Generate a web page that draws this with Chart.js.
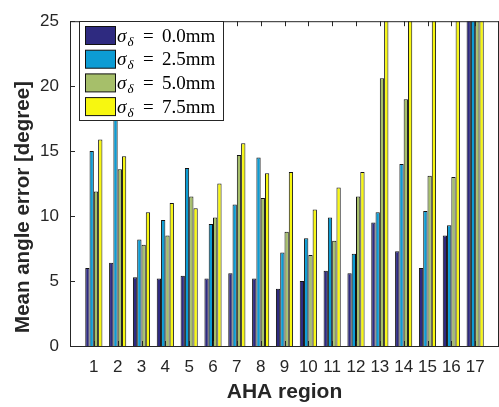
<!DOCTYPE html>
<html>
<head>
<meta charset="utf-8">
<script src="https://cdn.jsdelivr.net/npm/chart.js@4.4.0/dist/chart.umd.min.js"></script>
<style>
  html, body { margin: 0; padding: 0; background: #fff; overflow: hidden; width: 499px; height: 407px; }
  canvas { display: block; }
</style>
</head>
<body>
<canvas id="chart" width="510" height="407"></canvas>
<script>
// AHA regions 1..17, mean angle error per noise level (values above 25 are off the chart)
const regions = [1, 2, 3, 4, 5, 6, 7, 8, 9, 10, 11, 12, 13, 14, 15, 16, 17];
const sigma00 = [6.0, 6.4, 5.3, 5.2, 5.4, 5.2, 5.6, 5.2, 4.4, 5.0, 5.8, 5.6, 9.5, 7.3, 6.0, 8.5, 30];
const sigma25 = [15.0, 17.6, 8.2, 9.7, 13.7, 9.4, 10.9, 14.5, 7.2, 8.3, 9.9, 7.1, 10.3, 14.0, 10.4, 9.3, 30];
const sigma50 = [11.9, 13.6, 7.8, 8.5, 11.5, 9.9, 14.7, 11.4, 8.8, 7.0, 8.1, 11.5, 20.6, 19.0, 13.1, 13.0, 30];
const sigma75 = [15.9, 14.6, 10.3, 11.0, 10.6, 12.5, 15.6, 13.3, 13.4, 10.5, 12.2, 13.4, 30, 30, 30, 30, 30];
const seriesNames = ['0.0mm', '2.5mm', '5.0mm', '7.5mm'];
const seriesColors = ['#2e2a80', '#0c9cd4', '#a6bf6a', '#f7f710'];
const yTicks = [0, 5, 10, 15, 20, 25];
const yTitle = 'Mean angle error [degree]';

const axisColor = '#262626';
const sans = '"Liberation Sans", Arial, sans-serif';

const toPoints = vals => vals.map((v, i) => ({ x: regions[i], y: v }));

// matlab style box with inward ticks
const boxPlugin = {
  id: 'box',
  afterDatasetsDraw(chart) {
    const { ctx, chartArea: a, scales: { x, y } } = chart;
    ctx.save();
    ctx.strokeStyle = axisColor;
    ctx.lineWidth = 1;
    ctx.beginPath();
    ctx.moveTo(a.left, a.top + 0.5);
    ctx.lineTo(a.right, a.top + 0.5);
    ctx.moveTo(a.right - 0.5, a.top);
    ctx.lineTo(a.right - 0.5, a.bottom);
    regions.forEach(r => {
      const px = Math.round(x.getPixelForValue(r)) + 0.5;
      ctx.moveTo(px, a.top);
      ctx.lineTo(px, a.top + 5);
      ctx.moveTo(px, a.bottom);
      ctx.lineTo(px, a.bottom - 5);
    });
    yTicks.forEach(t => {
      const py = Math.round(y.getPixelForValue(t)) + 0.5;
      ctx.moveTo(a.left, py);
      ctx.lineTo(a.left + 5, py);
    });
    ctx.stroke();
    ctx.restore();
  }
};

// legend box inside the axes, top left + y title
const legendPlugin = {
  id: 'innerLegend',
  afterDraw(chart) {
    const ctx = chart.ctx;
    const bx = 79.5, by = 21.5, bw = 144, bh = 99;
    ctx.save();
    ctx.fillStyle = '#fff';
    ctx.fillRect(bx, by, bw, bh);
    ctx.strokeStyle = axisColor;
    ctx.lineWidth = 1;
    ctx.strokeRect(bx, by, bw, bh);
    seriesNames.forEach((name, i) => {
      const sy = 26.5 + i * 23.7;
      ctx.fillStyle = seriesColors[i];
      ctx.fillRect(85.5, sy, 30, 18);
      ctx.strokeStyle = '#111';
      ctx.strokeRect(85.5, sy, 30, 18);
      const base = sy + 15;
      ctx.fillStyle = '#000';
      ctx.textBaseline = 'alphabetic';
      ctx.font = 'italic 19px "Liberation Serif"';
      ctx.fillText('\u03c3', 117, base);
      ctx.font = 'italic 13px "Liberation Serif"';
      ctx.fillText('\u03b4', 127.5, base + 4);
      ctx.font = '19px "Liberation Serif"';
      ctx.fillText('=', 143, base);
      ctx.fillText(name, 162, base);
    });

    // y axis title, placed like the matlab figure (not centred on the axis)
    ctx.translate(23, 207);
    ctx.rotate(-Math.PI / 2);
    ctx.fillStyle = axisColor;
    ctx.font = 'bold 20.5px ' + sans;
    ctx.textAlign = 'center';
    ctx.textBaseline = 'middle';
    ctx.fillText(yTitle, 0, 0);
    ctx.restore();
  }
};

new Chart(document.getElementById('chart'), {
  type: 'bar',
  data: {
    datasets: [sigma00, sigma25, sigma50, sigma75].map((vals, i) => ({
      label: seriesNames[i],
      data: toPoints(vals),
      backgroundColor: seriesColors[i],
      borderColor: '#111',
      borderWidth: 1,
      borderSkipped: 'bottom',
      categoryPercentage: 0.72,
      barPercentage: 1.0
    }))
  },
  options: {
    animation: false,
    responsive: false,
    events: [],
    layout: { padding: { top: 12, right: 4, left: 0, bottom: 0 } },
    plugins: {
      legend: { display: false },
      tooltip: { enabled: false }
    },
    scales: {
      x: {
        type: 'linear',
        min: 0,
        max: 18,
        offset: false,
        grid: { display: false, drawTicks: false },
        border: { display: true, color: axisColor, width: 1 },
        ticks: {
          stepSize: 1,
          autoSkip: false,
          maxRotation: 0,
          padding: 11,
          color: axisColor,
          font: { family: sans, size: 17 },
          callback: v => (v >= 1 && v <= 17 ? String(v) : '')
        },
        title: {
          display: true,
          text: 'AHA region',
          color: axisColor,
          padding: { top: 0, bottom: 2 },
          font: { family: sans, size: 21, weight: 'bold' }
        },
        afterFit: s => { s.height = 61; }
      },
      y: {
        min: 0,
        max: 25,
        grid: { display: false, drawTicks: false },
        border: { display: true, color: axisColor, width: 1 },
        ticks: {
          stepSize: 5,
          padding: 11,
          color: axisColor,
          font: { family: sans, size: 17 }
        },
        afterFit: s => { s.width = 70; }
      }
    }
  },
  plugins: [boxPlugin, legendPlugin]
});
</script>
</body>
</html>
